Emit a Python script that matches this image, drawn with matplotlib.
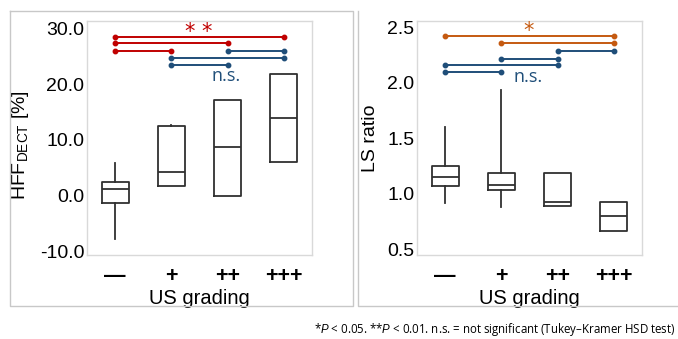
import matplotlib
matplotlib.use("Agg")
import matplotlib.pyplot as plt
from matplotlib.lines import Line2D

plt.rcParams['font.family'] = ['Liberation Sans', 'DejaVu Sans']
plt.rcParams['mathtext.fontset'] = 'custom'
plt.rcParams['mathtext.rm'] = 'Liberation Sans'
plt.rcParams['mathtext.it'] = 'Liberation Sans:italic'

# data
grades = ['\u2014', '+', '++', '+++']

hff_whislo = [-7.9, 1.7, -0.1, 6.1]
hff_q1 = [-1.3, 1.7, -0.1, 6.1]
hff_med = [1.2, 4.2, 8.8, 14.0]
hff_q3 = [2.5, 12.5, 17.2, 21.8]
hff_whishi = [5.8, 12.7, 17.2, 21.8]

ls_whislo = [0.912, 0.88, 0.885, 0.666]
ls_q1 = [1.067, 1.037, 0.885, 0.666]
ls_med = [1.151, 1.077, 0.92, 0.795]
ls_q3 = [1.253, 1.19, 1.19, 0.927]
ls_whishi = [1.60, 1.937, 1.19, 0.927]

# pairwise comparisons: (group a, group b, height, kind)
hff_pairs = [(0, 3, 28.6, 'sig'), (0, 2, 27.4, 'sig'), (0, 1, 26.0, 'sig'),
             (2, 3, 26.0, 'ns'), (1, 3, 24.7, 'ns'), (1, 2, 23.5, 'ns')]
ls_pairs = [(0, 3, 2.417, 'sig'), (1, 3, 2.357, 'sig'), (2, 3, 2.282, 'ns'),
            (1, 2, 2.216, 'ns'), (0, 2, 2.156, 'ns'), (0, 1, 2.093, 'ns')]

RED = '#C00000'
ORANGE = '#C55A11'
BLUE = '#1F4E79'
FRAME = '#C8C8C8'

fig = plt.figure(figsize=(6.78, 3.39), dpi=100)

# panel frames (figure coords)
W, H = 678.0, 339.0
def fline(xs, ys):
    fig.add_artist(Line2D([x / W for x in xs], [1 - y / H for y in ys],
                          color=FRAME, lw=1.0, transform=fig.transFigure))
fline([10, 353, 353, 10, 10], [11, 11, 306, 306, 11])
fline([358, 358, 678], [11, 306, 306])

def draw_panel(ax, whislo, q1, med, q3, whishi, pairs, sigcol, star, star_xy, ns_xy,
               ylim, yticks, ylabel, lab_xy):
    stats = []
    for i in range(len(grades)):
        stats.append(dict(whislo=whislo[i], q1=q1[i], med=med[i], q3=q3[i],
                          whishi=whishi[i], fliers=[]))
    ax.bxp(stats, positions=range(len(grades)), widths=0.48, showcaps=False,
           boxprops=dict(color='#303030', lw=1.3),
           medianprops=dict(color='#303030', lw=1.3),
           whiskerprops=dict(color='#303030', lw=1.3))
    for a, b, y, kind in pairs:
        c = sigcol if kind == 'sig' else BLUE
        ax.plot([a, b], [y, y], color=c, lw=1.4, marker='o', ms=3.2,
                solid_capstyle='butt')
    ax.text(star_xy[0], star_xy[1], star, color=sigcol, fontsize=15,
            ha='center', va='center', family=['DejaVu Sans'])
    ax.text(ns_xy[0], ns_xy[1], 'n.s.', color=BLUE, fontsize=13,
            ha='center', va='center', family=['Open Sans', 'DejaVu Sans'])
    ax.set_xlim(-0.5, 3.5)
    ax.set_ylim(*ylim)
    ax.set_yticks(yticks)
    ax.set_xticks(range(len(grades)))
    ax.set_xticklabels(grades, fontweight='bold')
    ax.tick_params(length=0, labelsize=14, pad=2)
    ax.tick_params(axis='x', labelsize=15.5, pad=8)
    for s in ax.spines.values():
        s.set_color('#D9D9D9')
        s.set_linewidth(1.0)
    ax.set_ylabel(ylabel, fontsize=14)
    ax.yaxis.set_label_coords(*lab_xy)
    ax.set_xlabel('US grading', fontsize=14.5, labelpad=1)

ax1 = fig.add_axes([87 / W, 1 - 255 / H, 225 / W, 234 / H])
draw_panel(ax1, hff_whislo, hff_q1, hff_med, hff_q3, hff_whishi, hff_pairs, RED,
           '* *', (1.49, 29.5), (1.97, 21.5), (-10.7, 31.4),
           [-10, 0, 10, 20, 30], 'HFF$_{\\mathrm{DECT}}$ [%]', (-0.25, 0.47))
ax1.set_yticklabels(['-10.0', '0.0', '10.0', '20.0', '30.0'])

ax2 = fig.add_axes([417 / W, 1 - 255 / H, 225 / W, 234 / H])
draw_panel(ax2, ls_whislo, ls_q1, ls_med, ls_q3, ls_whishi, ls_pairs, ORANGE,
           '*', (1.48, 2.465), (1.48, 2.05), (0.447, 2.555),
           [0.5, 1.0, 1.5, 2.0, 2.5], 'LS ratio', (-0.17, 0.50))

fig.text(675 / W, 1 - 330 / H,
         '*$P$ < 0.05. **$P$ < 0.01. n.s. = not significant (Tukey\u2013Kramer HSD test)',
         ha='right', va='center', fontsize=8.3, family=['Open Sans', 'DejaVu Sans'])

fig.savefig('out.png', dpi=100)
